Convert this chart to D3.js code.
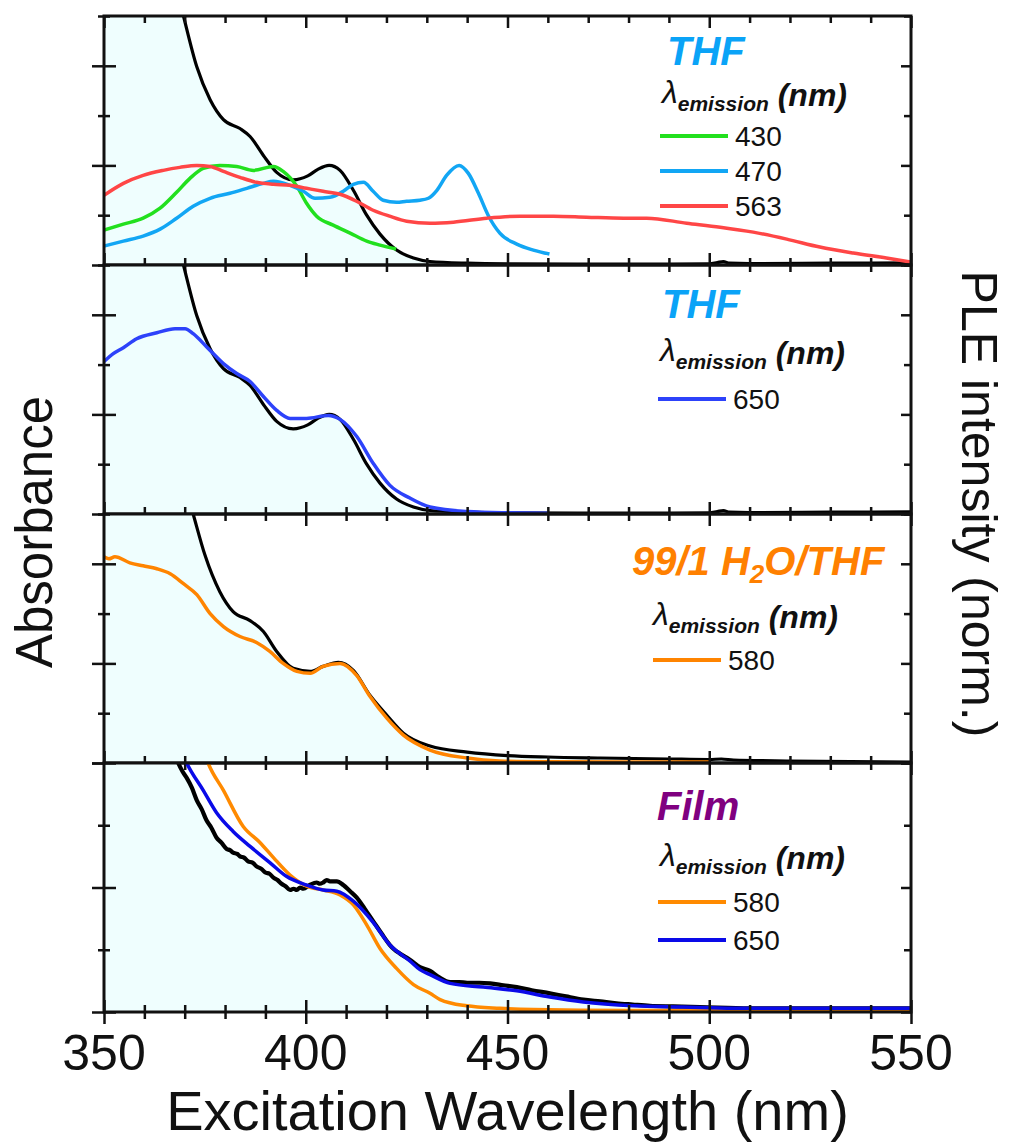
<!DOCTYPE html>
<html>
<head>
<meta charset="utf-8">
<script src="https://cdn.jsdelivr.net/npm/d3@7"></script>
<style>
  body { margin: 0; background: #fff; }
  svg { display: block; }
  text { font-family: "Liberation Sans", Arial, sans-serif; fill: #111; }
</style>
</head>
<body>
<div id="chart"></div>
<script>
// ---- data (wavelength nm, normalised value) ----
const xTickLabels = [350, 400, 450, 500, 550];

// absorbance in THF (same spectrum in panels 1 and 2)
const absTHF = [[350,6.0],[360,4.2],[365,3.3],[369.7,2.5],[373,1.99],[376.3,1.66],[379.6,1.46],[383.7,1.37],[386.2,1.29],
  [389.5,1.10],[392.8,0.93],[396.9,0.855],[400.5,0.895],[403,0.96],[405.8,1.0],[408.5,0.95],[411.8,0.75],[415.1,0.50],
  [418.4,0.31],[422.5,0.15],[426.7,0.07],[430.8,0.035],[440,0.018],[450,0.012],[470,0.01],[490,0.01],[500,0.012],
  [502,0.025],[503.5,0.035],[505,0.018],[510,0.014],[530,0.018],[550,0.022]];

const ple430 = [[350,0.35],[354.8,0.41],[359.7,0.47],[363.9,0.57],[368,0.73],[371.3,0.87],[374.6,0.97],[378.7,1.0],
  [382.9,0.99],[387,0.95],[392,0.99],[394.4,0.94],[397.8,0.79],[400.2,0.62],[402.7,0.49],[406.8,0.40],[411,0.32],
  [415.1,0.24],[418.4,0.20],[422.4,0.16]];

const ple470 = [[350,0.19],[354.8,0.24],[359.7,0.29],[363.9,0.36],[368,0.47],[372.1,0.59],[376.3,0.67],[381.2,0.72],
  [385.4,0.77],[389.5,0.82],[392,0.84],[396.1,0.80],[399.4,0.74],[402.3,0.67],[406,0.68],[409.3,0.74],[411.8,0.81],
  [414.3,0.83],[416.7,0.74],[419.2,0.65],[422.5,0.63],[425,0.64],[428.3,0.65],[430.4,0.67],[432.5,0.75],[434.9,0.90],
  [438,1.0],[440.3,0.92],[442.8,0.72],[445.2,0.50],[448.1,0.32],[452.3,0.21],[456.4,0.15],[460.4,0.11]];

const ple563 = [[350,0.70],[354.8,0.82],[359.7,0.90],[364.7,0.95],[368.8,0.98],[373,1.0],[376.3,0.99],[379.6,0.94],
  [383.7,0.88],[387.8,0.83],[392,0.81],[396.1,0.80],[400.2,0.77],[404.3,0.74],[408.5,0.71],[412.6,0.64],[416.7,0.55],
  [420.8,0.49],[425,0.44],[430.8,0.42],[436.6,0.43],[444.9,0.47],[453.1,0.49],[461.4,0.49],[469.6,0.48],[478.8,0.47],
  [484.5,0.47],[494.4,0.42],[502.7,0.38],[510.9,0.33],[519.2,0.26],[527.4,0.18],[535.7,0.12],[543.9,0.07],[550,0.03]];

const ple650 = [[350,1.53],[352.3,1.61],[354.8,1.67],[358.1,1.76],[363.1,1.82],[367.6,1.86],[370.1,1.86],[372.1,1.81],
  [375.4,1.68],[379.6,1.51],[382.9,1.41],[386.2,1.33],[389.5,1.18],[392.8,1.04],[396.1,0.96],[400.2,0.96],[405.6,0.99],
  [408.5,0.95],[412.6,0.78],[416.7,0.51],[420.8,0.29],[425.8,0.16],[430.8,0.07],[440,0.025],[450,0.012],[460,0.008]];

// absorbance in 99/1 H2O/THF
const absWater = [[350,6.0],[360,4.5],[366,3.4],[372.1,2.5],[375,2.09],[378.7,1.72],[382,1.52],[386.2,1.43],[389.5,1.32],
  [392.8,1.12],[396.9,0.95],[401.1,0.92],[404.3,0.97],[408.1,1.01],[411.8,0.93],[415.9,0.68],[420.1,0.48],[424.2,0.30],
  [430.8,0.17],[440,0.11],[450,0.075],[460,0.06],[473,0.05],[490,0.04],[500,0.035],[503,0.04],[506,0.03],[520,0.02],[550,0.01]];

const ple580Water = [[350,2.07],[351.2,2.05],[352.7,2.07],[356.4,2.01],[359.7,1.98],[363.1,1.95],[366.4,1.90],[369.7,1.80],
  [373,1.69],[376.3,1.50],[379.6,1.37],[383.7,1.27],[387.8,1.21],[391.1,1.12],[394.4,1.0],[397.8,0.92],[401.1,0.90],
  [404.3,0.97],[408.5,1.0],[412.6,0.88],[415.9,0.67],[420.1,0.45],[424.2,0.28],[430.8,0.13],[440,0.05],[448,0.02],
  [460,0.012],[480,0.01],[500,0.01]];

// film
const absFilm = [[350,5.0],[360,3.0],[365,2.4],[368.4,2.0],[369.5,1.93],[370.5,1.88],[371.8,1.80],[373,1.70],[374.2,1.63],
  [375.4,1.54],[376.6,1.48],[377.9,1.40],[379.1,1.36],[380.4,1.31],[381.2,1.30],[382,1.28],[383,1.27],[383.7,1.25],
  [384.7,1.24],[385.7,1.21],[386.8,1.20],[387.8,1.17],[389,1.15],[390,1.12],[391,1.11],[392,1.08],[393,1.06],[394,1.03],
  [395,1.01],[396.1,0.98],[397,0.99],[397.8,0.98],[398.6,1.0],[399.4,0.99],[401,1.02],[402.7,1.04],[403.5,1.03],
  [404.3,1.04],[405.2,1.06],[406,1.05],[407.7,1.05],[409.3,1.02],[411,0.97],[412.6,0.92],[414.6,0.83],[416.7,0.73],
  [418.8,0.63],[420.8,0.54],[422,0.50],[423.3,0.47],[425.8,0.42],[428.3,0.36],[430.8,0.33],[433,0.28],[435.8,0.24],
  [438,0.24],[440,0.235],[443,0.235],[445.7,0.23],[449,0.215],[452.3,0.20],[456,0.175],[460.5,0.15],[464.5,0.125],
  [468.8,0.10],[473,0.085],[477,0.07],[481,0.06],[485.3,0.05],[491,0.045],[497.7,0.04],[510,0.03],[530,0.03],[550,0.03]];

const ple650Film = [[365,2.5],[370.5,2.0],[374.6,1.78],[377.9,1.60],[382,1.45],[386.2,1.33],[391.1,1.20],[395.2,1.09],
  [400.2,1.02],[404.3,0.98],[407.7,0.97],[411.8,0.89],[416.7,0.72],[420.8,0.54],[425.8,0.41],[428.3,0.34],[430.8,0.30],
  [435.8,0.23],[444,0.20],[452.3,0.17],[460.5,0.12],[468.8,0.08],[481.2,0.05],[493.6,0.04],[506,0.03],[550,0.03]];

const ple580Film = [[372,2.4],[375.8,2.0],[379.6,1.78],[384.5,1.49],[388.7,1.36],[392,1.24],[396.1,1.10],[400.2,1.01],
  [404.3,0.98],[408.5,0.94],[411.8,0.86],[415.1,0.70],[418.4,0.51],[422.5,0.35],[426.7,0.22],[430.8,0.15],[433.3,0.10],
  [439.9,0.05],[448.1,0.03],[456.4,0.02],[480,0.012],[500,0.012],[520,0.01],[550,0.01]];

// ---- layout ----
const W = 1011, H = 1144;
const left = 104, right = 911, top0 = 16, panelH = 249;
const fillColor = '#effefe';

const panels = [
  { ymax: 2.5, abs: absTHF,
    ple: [{ d: ple430, c: '#22e01e', label: '430' }, { d: ple470, c: '#12a6f4', label: '470' }, { d: ple563, c: '#ff4646', label: '563' }],
    title: [['THF', 0]], titleColor: '#0aa3f7', tx: 667, ty: 65, lx: 662, ly: 103, legX: 660, legY: 136, legStep: 35 },
  { ymax: 2.5, abs: absTHF,
    ple: [{ d: ple650, c: '#2d42fa', label: '650' }],
    title: [['THF', 0]], titleColor: '#0aa3f7', tx: 662, ty: 318, lx: 660, ly: 361, legX: 658, legY: 399, legStep: 35 },
  { ymax: 2.5, abs: absWater,
    ple: [{ d: ple580Water, c: '#ff8400', label: '580' }],
    title: [['99/1 H', 0], ['2', 1], ['O/THF', 0]], titleColor: '#ff8000', tx: 632, ty: 575, lx: 653, ly: 625, legX: 653, legY: 660, legStep: 35 },
  { ymax: 2.0, abs: absFilm,
    ple: [{ d: ple580Film, c: '#ff8a00', label: '580' }, { d: ple650Film, c: '#0a0ae8', label: '650' }],
    title: [['Film', 0]], titleColor: '#800080', tx: 657, ty: 820, lx: 660, ly: 866, legX: 658, legY: 902, legStep: 38 }
];

const svg = d3.select('#chart').append('svg').attr('width', W).attr('height', H);
const x = d3.scaleLinear().domain([350, 550]).range([left, right]);

const xMinor = d3.range(350, 551, 10).filter(v => v % 50 !== 0);

panels.forEach((p, i) => {
  const top = top0 + i * panelH, bottom = top + panelH;
  const y = d3.scaleLinear().domain([0, p.ymax]).range([bottom, top]);

  svg.append('clipPath').attr('id', 'clip' + i)
    .append('rect').attr('x', left).attr('y', top).attr('width', right - left).attr('height', panelH);
  const g = svg.append('g').attr('clip-path', `url(#clip${i})`);

  const line = d3.line().x(d => x(d[0])).y(d => y(d[1])).curve(d3.curveMonotoneX);
  const area = d3.area().x(d => x(d[0])).y0(y(0)).y1(d => y(d[1])).curve(d3.curveMonotoneX);

  g.append('path').datum(p.abs).attr('d', area).attr('fill', fillColor);
  g.append('path').datum(p.abs).attr('d', line).attr('fill', 'none')
    .attr('stroke', '#000').attr('stroke-width', i === 3 ? 4.2 : 3.2).attr('stroke-linejoin', 'round');
  p.ple.forEach(s => {
    g.append('path').datum(s.d).attr('d', line).attr('fill', 'none')
      .attr('stroke', s.c).attr('stroke-width', 3.5).attr('stroke-linejoin', 'round');
  });

  // frame
  svg.append('rect').attr('x', left).attr('y', top).attr('width', right - left).attr('height', panelH)
    .attr('fill', 'none').attr('stroke', '#111').attr('stroke-width', 3);

  // y ticks
  const yMajor = d3.range(0, p.ymax + 0.01, 1);
  const yMinor = d3.range(0.5, p.ymax + 0.01, 1);
  const yl = (vals, out, inn) => svg.append('g').attr('transform', `translate(${left},0)`)
    .call(d3.axisLeft(y).tickValues(vals).tickSize(out).tickFormat(''))
    .call(a => a.select('.domain').remove())
    .call(a => a.selectAll('line').attr('x1', inn).attr('stroke', '#111').attr('stroke-width', 2.5));
  yl(yMajor, 12, 12); yl(yMinor, 6, 6);
  const yr = (vals, inn) => svg.append('g').attr('transform', `translate(${right},0)`)
    .call(d3.axisRight(y).tickValues(vals).tickSize(-inn).tickFormat(''))
    .call(a => a.select('.domain').remove())
    .call(a => a.selectAll('line').attr('stroke', '#111').attr('stroke-width', 2.5));
  yr(yMajor, 10); yr(yMinor, 7);

  // x ticks at the bottom of each panel (crossing)
  const xb = (vals, len) => svg.append('g').attr('transform', `translate(0,${bottom})`)
    .call(d3.axisBottom(x).tickValues(vals).tickSize(len).tickFormat(''))
    .call(a => a.select('.domain').remove())
    .call(a => a.selectAll('line').attr('y1', -len).attr('stroke', '#111').attr('stroke-width', 2.5));
  xb(xTickLabels, 12); xb(xMinor, 7);
  if (i === 0) {
    const xt = (vals, len) => svg.append('g').attr('transform', `translate(0,${top})`)
      .call(d3.axisTop(x).tickValues(vals).tickSize(-len).tickFormat(''))
      .call(a => a.select('.domain').remove())
      .call(a => a.selectAll('line').attr('stroke', '#111').attr('stroke-width', 2.5));
    xt(xTickLabels, 12); xt(xMinor, 7);
  }

  // legend
  const t = svg.append('text').attr('x', p.tx).attr('y', p.ty)
    .attr('font-size', 40).attr('font-weight', 'bold').attr('font-style', 'italic')
    .style('fill', p.titleColor);
  p.title.forEach(([s, sub], k) => {
    t.append('tspan').text(s).attr('font-size', sub ? 26 : 40).attr('dy', sub ? 8 : (k === 0 ? 0 : -8));
  });

  const lt = svg.append('text').attr('x', p.lx).attr('y', p.ly).attr('font-size', 32);
  lt.append('tspan').text('λ').attr('font-style', 'italic');
  lt.append('tspan').text('emission').attr('dy', 8).attr('font-size', 21)
    .attr('font-weight', 'bold').attr('font-style', 'italic');
  lt.append('tspan').text(' (nm)').attr('dy', -5)
    .attr('font-weight', 'bold').attr('font-style', 'italic');

  p.ple.forEach((s, k) => {
    const ly = p.legY + k * p.legStep;
    svg.append('line').attr('x1', p.legX).attr('x2', p.legX + 68).attr('y1', ly).attr('y2', ly)
      .attr('stroke', s.c).attr('stroke-width', 4);
    svg.append('text').attr('x', p.legX + 75).attr('y', ly + 10).attr('font-size', 28).text(s.label);
  });
});

// x tick labels
svg.append('g').selectAll('text').data(xTickLabels).join('text')
  .attr('x', d => x(d)).attr('y', 1070).attr('text-anchor', 'middle').attr('font-size', 50).text(d => d);

// axis titles
svg.append('text').attr('x', (left + right) / 2).attr('y', 1130).attr('text-anchor', 'middle')
  .attr('font-size', 56).text('Excitation Wavelength (nm)');
svg.append('text').attr('transform', 'translate(52,532) rotate(-90)').attr('text-anchor', 'middle')
  .attr('font-size', 51).text('Absorbance');
svg.append('text').attr('transform', 'translate(962,504) rotate(90)').attr('text-anchor', 'middle')
  .attr('font-size', 50).text('PLE intensity (norm.)');
</script>
</body>
</html>
